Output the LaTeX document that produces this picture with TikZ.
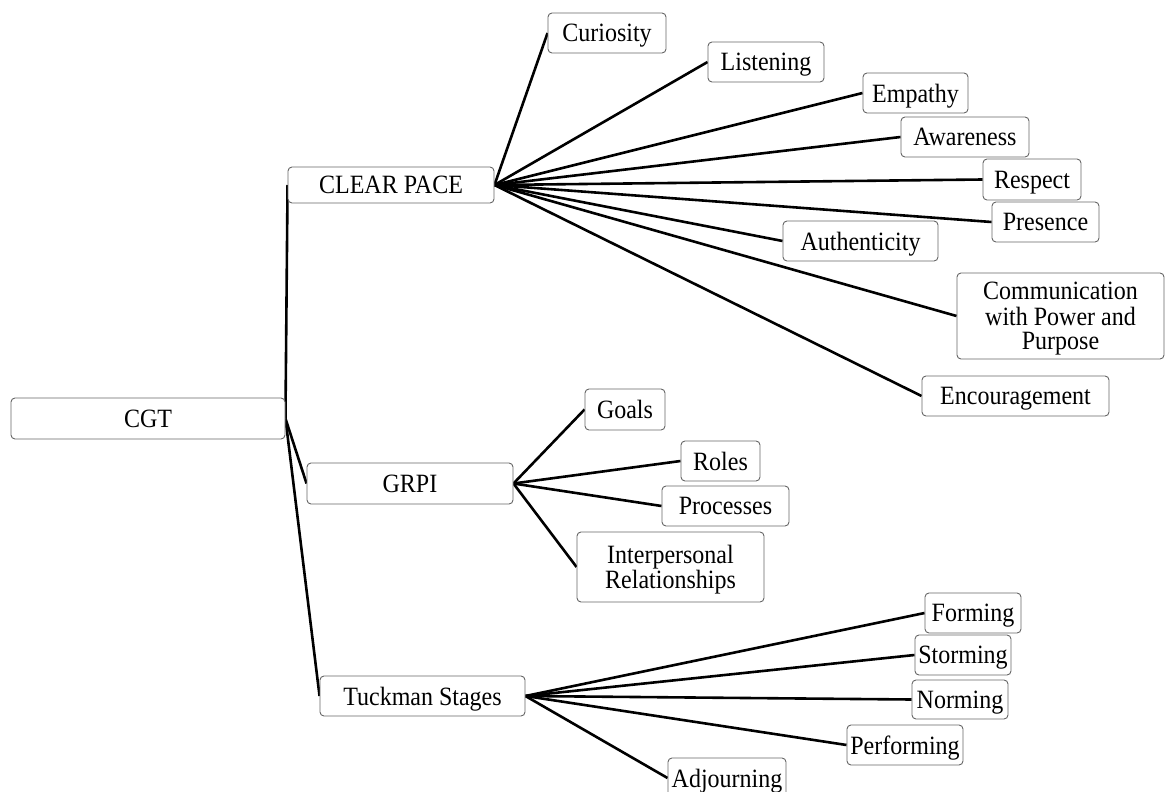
\documentclass[tikz,border=0pt]{standalone}
\usepackage{fontspec}
\setmainfont{Liberation Serif}
\usetikzlibrary{backgrounds}
\newcommand\boxtext[1]{\raisebox{-3.5pt}[\height][\depth]{\scalebox{1}[1.1]{\begin{tabular}{@{}c@{}}#1\end{tabular}}}}
\tikzset{
  box/.style={rectangle, rounded corners=4pt, draw=black!60, line width=0.9pt, fill=white,
    inner sep=0pt, align=center, text=black, font=\fontsize{24}{21.2}\selectfont},
  link/.style={line width=2.6pt, black}
}
\begin{document}
\begin{tikzpicture}[x=1pt,y=-1pt]
\useasboundingbox (0,0) rectangle (1165,792);
% level 0
\node[box, minimum width=274pt, minimum height=41pt] (cgt) at (148,418.5) {\boxtext{CGT}};
% level 1
\node[box, minimum width=206pt, minimum height=36pt] (clear) at (391,185) {\boxtext{CLEAR PACE}};
\node[box, minimum width=206pt, minimum height=41pt] (grpi) at (410,483.5) {\boxtext{GRPI}};
\node[box, minimum width=205pt, minimum height=40pt] (tuck) at (422.5,696) {\boxtext{Tuckman Stages}};
% CLEAR PACE children
\node[box, minimum width=118pt, minimum height=40pt] (cur) at (607,33) {\boxtext{Curiosity}};
\node[box, minimum width=116pt, minimum height=40pt] (lis) at (766,62) {\boxtext{Listening}};
\node[box, minimum width=105pt, minimum height=40pt] (emp) at (915.5,93) {\boxtext{Empathy}};
\node[box, minimum width=128pt, minimum height=40pt] (awa) at (965,137) {\boxtext{Awareness}};
\node[box, minimum width=98pt, minimum height=41pt] (res) at (1032,179.5) {\boxtext{Respect}};
\node[box, minimum width=107pt, minimum height=40pt] (pre) at (1045.5,222) {\boxtext{Presence}};
\node[box, minimum width=155pt, minimum height=40pt] (aut) at (860.5,241) {\boxtext{Authenticity}};
\node[box, minimum width=207pt, minimum height=86pt] (com) at (1060.5,316) {\boxtext{Communication\\with Power and\\Purpose}};
\node[box, minimum width=187pt, minimum height=40pt] (enc) at (1015.5,396) {\boxtext{Encouragement}};
% GRPI children
\node[box, minimum width=80pt, minimum height=41pt] (goa) at (625,409.5) {\boxtext{Goals}};
\node[box, minimum width=79pt, minimum height=40pt] (rol) at (720.5,461) {\boxtext{Roles}};
\node[box, minimum width=127pt, minimum height=40pt] (pro) at (725.5,506) {\boxtext{Processes}};
\node[box, minimum width=187pt, minimum height=70pt] (int) at (670.5,567) {\boxtext{Interpersonal\\Relationships}};
% Tuckman children
\node[box, minimum width=96pt, minimum height=40pt] (for) at (973,613) {\boxtext{Forming}};
\node[box, minimum width=96pt, minimum height=40pt] (sto) at (963,655) {\boxtext{Storming}};
\node[box, minimum width=96pt, minimum height=39pt] (nor) at (960,699.5) {\boxtext{Norming}};
\node[box, minimum width=116pt, minimum height=40pt] (per) at (905,745) {\boxtext{Performing}};
\node[box, minimum width=118pt, minimum height=40pt] (adj) at (727,778) {\boxtext{Adjourning}};
\begin{scope}[on background layer]
\foreach \c in {clear,grpi,tuck} \draw[link] (cgt.east) -- (\c.west);
\foreach \c in {cur,lis,emp,awa,res,pre,aut,com,enc} \draw[link] (clear.east) -- (\c.west);
\foreach \c in {goa,rol,pro,int} \draw[link] (grpi.east) -- (\c.west);
\foreach \c in {for,sto,nor,per,adj} \draw[link] (tuck.east) -- (\c.west);
\end{scope}
\end{tikzpicture}
\end{document}
